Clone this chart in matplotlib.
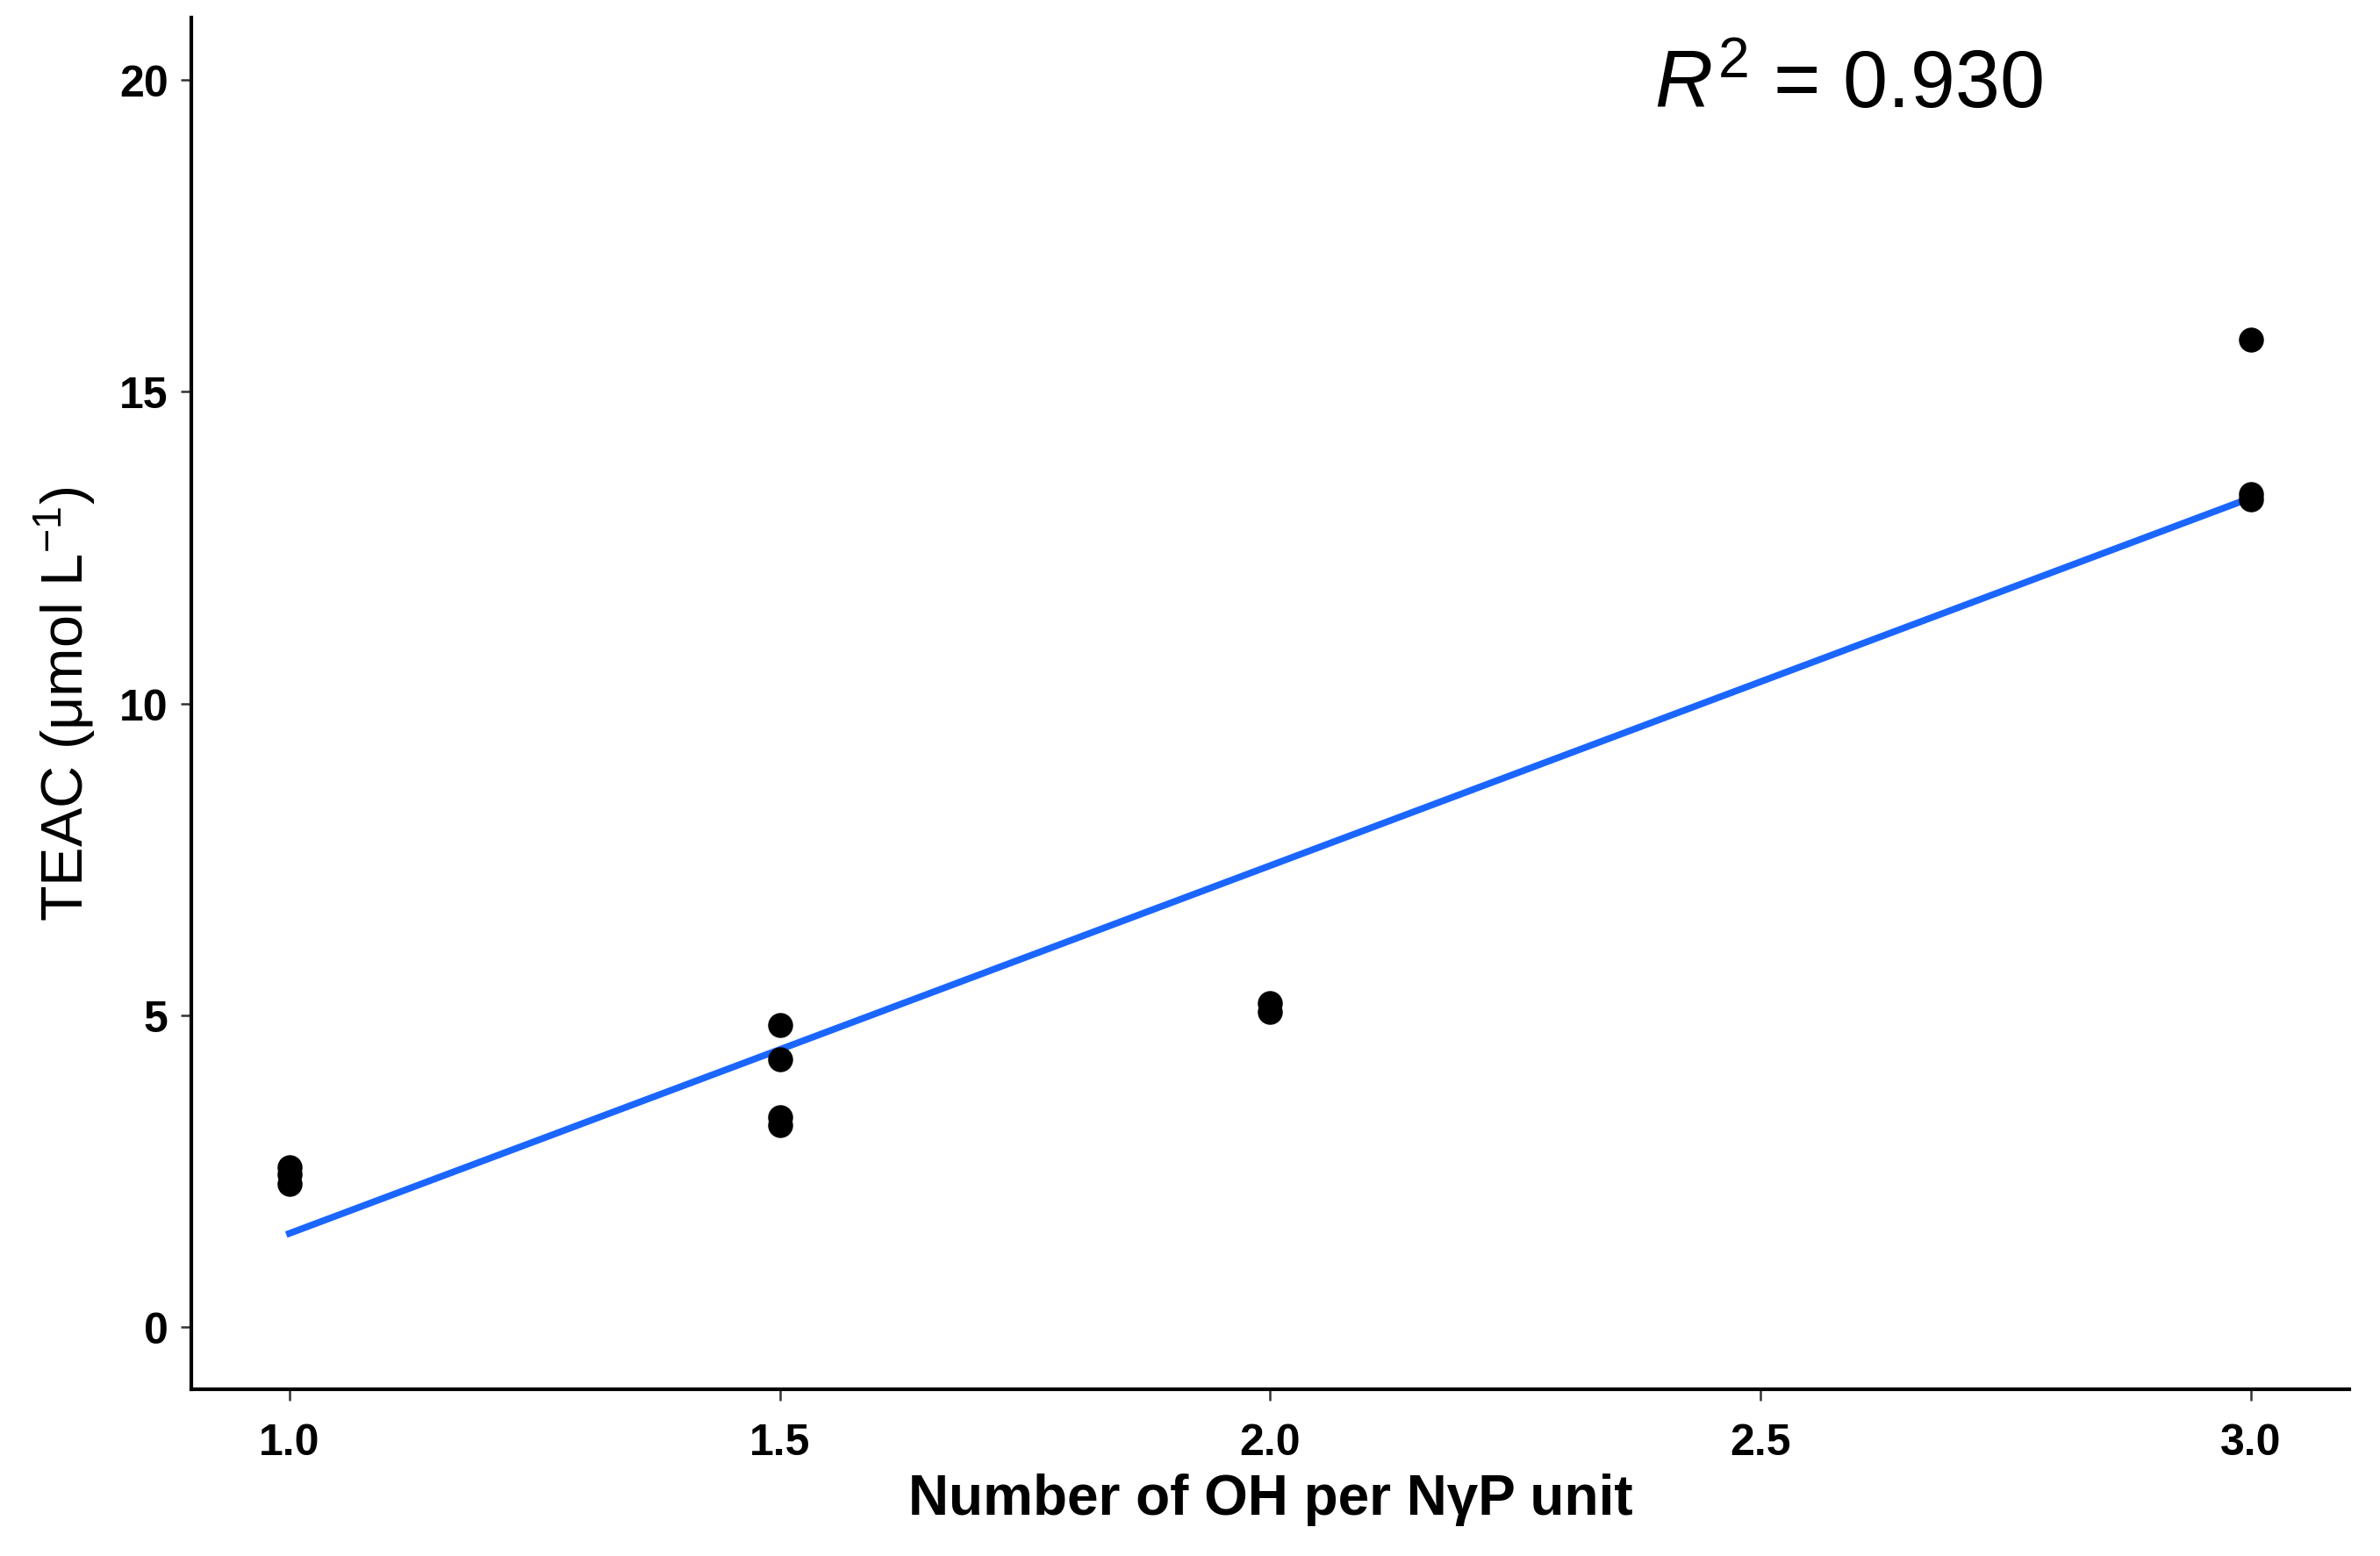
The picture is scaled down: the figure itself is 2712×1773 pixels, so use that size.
import matplotlib
matplotlib.use("Agg")
import matplotlib.pyplot as plt

# Data
x_vals = [1.0, 1.0, 1.0, 1.5, 1.5, 1.5, 1.5, 2.0, 2.0, 3.0, 3.0, 3.0]
teac = [2.30, 2.45, 2.56, 4.84, 4.30, 3.36, 3.24, 5.05, 5.20, 15.84, 13.36, 13.27]
fit_x = [1.0, 3.0]
fit_y = [1.5, 13.3]
x_ticks = [1.0, 1.5, 2.0, 2.5, 3.0]
x_ticklabels = ["1.0", "1.5", "2.0", "2.5", "3.0"]
y_ticks = [0, 5, 10, 15, 20]
y_ticklabels = ["0", "5", "10", "15", "20"]

plt.rcParams['font.family'] = ['Liberation Sans', 'DejaVu Sans']
plt.rcParams['mathtext.fontset'] = 'custom'
plt.rcParams['mathtext.rm'] = 'Liberation Sans'
plt.rcParams['mathtext.it'] = 'Liberation Sans:italic'
plt.rcParams['mathtext.bf'] = 'Liberation Sans:bold'

fig = plt.figure(figsize=(27.12, 17.74), dpi=100)
ax = fig.add_axes([0.0804, 0.1071, 0.9066, 0.8809])

ax.scatter(x_vals, teac, s=420, color='black', zorder=3, linewidths=0)
ax.plot(fit_x, fit_y, color='#1A66FF', lw=5.5, zorder=2)

ax.set_xlim(0.9, 3.1)
ax.set_ylim(-1, 21)
ax.set_xticks(x_ticks)
ax.set_xticklabels(x_ticklabels)
ax.set_yticks(y_ticks)
ax.set_yticklabels(y_ticklabels)

for s in ['top', 'right']:
    ax.spines[s].set_visible(False)
for s in ['left', 'bottom']:
    ax.spines[s].set_linewidth(3)
    ax.spines[s].set_color('black')

ax.tick_params(axis='both', length=9, width=1.8, color='#333333',
               labelsize=36, labelcolor='black')
ax.tick_params(axis='x', pad=18)
ax.tick_params(axis='y', pad=10)
for lab in ax.get_xticklabels() + ax.get_yticklabels():
    lab.set_fontweight('bold')

ax.set_xlabel('Number of OH per NγP unit', fontsize=46, fontweight='bold', labelpad=8)
ax.set_ylabel('TEAC (μmol L$^{-1}$)', fontsize=48, labelpad=18)

ax.text(2.59, 19.9, r'$\mathit{R}^{2}$ = 0.930', fontsize=66, ha='center', va='center')

fig.savefig('out.png', dpi=100)
